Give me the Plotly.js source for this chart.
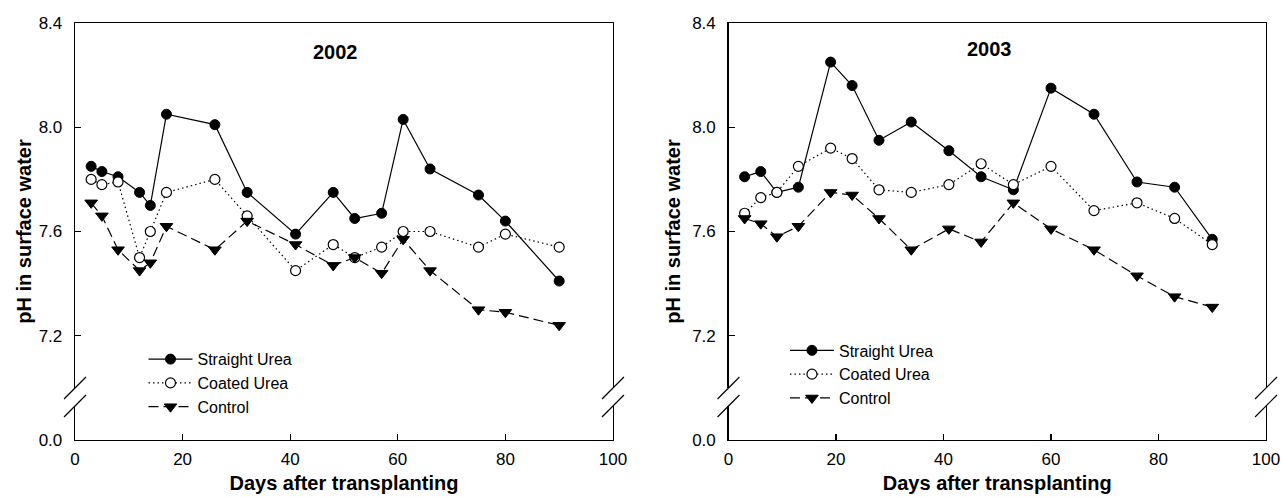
<!DOCTYPE html>
<html>
<head>
<meta charset="utf-8">
<script src="https://cdn.plot.ly/plotly-3.0.1.min.js"></script>
<style>html,body{margin:0;padding:0;background:#fff;}#chart{width:1282px;height:497px;}</style>
</head>
<body>
<div id="chart"></div>
<script>
// ---- data ----
const days2002 = [3,5,8,12,14,17,26,32,41,48,52,57,61,66,75,80,90];
const straight2002 = [7.85,7.83,7.81,7.75,7.70,8.05,8.01,7.75,7.59,7.75,7.65,7.67,8.03,7.84,7.74,7.64,7.41];
const coated2002 = [7.80,7.78,7.79,7.50,7.60,7.75,7.80,7.66,7.45,7.55,7.50,7.54,7.60,7.60,7.54,7.59,7.54];
const control2002 = [7.71,7.66,7.53,7.45,7.48,7.62,7.53,7.64,7.55,7.47,7.50,7.44,7.57,7.45,7.30,7.29,7.24];

const days2003 = [3,6,9,13,19,23,28,34,41,47,53,60,68,76,83,90];
const straight2003 = [7.81,7.83,7.75,7.77,8.25,8.16,7.95,8.02,7.91,7.81,7.76,8.15,8.05,7.79,7.77,7.57];
const coated2003 = [7.67,7.73,7.75,7.85,7.92,7.88,7.76,7.75,7.78,7.86,7.78,7.85,7.68,7.71,7.65,7.55];
const control2003 = [7.65,7.63,7.58,7.62,7.75,7.74,7.65,7.53,7.61,7.56,7.71,7.61,7.53,7.43,7.35,7.31];

const seriesNames = ["Straight Urea","Coated Urea","Control"];
const panelTitles = ["2002","2003"];
const yTickVals = [6.8,7.2,7.6,8.0,8.4];
const yTickText = ["0.0","7.2","7.6","8.0","8.4"];
const xTickVals = [0,20,40,60,80,100];
const xTitle = "Days after transplanting";
const yTitle = "pH in surface water";

// ---- styles ----
const FONT = "Liberation Sans, Arial, Helvetica, sans-serif";
const styles = [
  {line:{color:"#000",width:1.2,dash:"solid"}, marker:{symbol:"circle",size:10,color:"#000",line:{color:"#000",width:1}}},
  {line:{color:"#000",width:1.2,dash:"1.5px,3px"}, marker:{symbol:"circle",size:10,color:"#fff",line:{color:"#000",width:1.2}}},
  {line:{color:"#000",width:1.2,dash:"10px,5px"}, marker:{symbol:"triangle-down",size:11,color:"#000",line:{color:"#000",width:1}}}
];

function makeTraces(days, ys, xa, ya, legendId) {
  return ys.map((y, i) => ({
    type: "scatter", mode: "lines+markers",
    x: days, y: y, xaxis: xa, yaxis: ya,
    name: seriesNames[i], legend: legendId,
    line: styles[i].line, marker: styles[i].marker,
    cliponaxis: false
  }));
}

const traces = [
  ...makeTraces(days2002, [straight2002, coated2002, control2002], "x", "y", "legend"),
  ...makeTraces(days2003, [straight2003, coated2003, control2003], "x2", "y2", "legend2")
];

function xAxis(domain, anchor) {
  return {
    domain: domain, anchor: anchor, range: [0,100],
    tickmode: "array", tickvals: xTickVals,
    ticks: "inside", ticklen: 6, tickwidth: 1.2, tickcolor: "#000",
    showline: true, linecolor: "#000", linewidth: 1.3, mirror: true,
    showgrid: false, zeroline: false,
    tickfont: {family: FONT, size: 17, color: "#000"},
    ticklabelstandoff: 3,
    title: {text: xTitle, font: {family: FONT, size: 20, color: "#000", weight: "bold"}, standoff: 8}
  };
}
function yAxis(anchor, standoff) {
  return {
    domain: [0,1], anchor: anchor, range: [6.8,8.4],
    tickmode: "array", tickvals: yTickVals, ticktext: yTickText,
    ticks: "inside", ticklen: 6, tickwidth: 1.2, tickcolor: "#000",
    showline: true, linecolor: "#000", linewidth: 1.3, mirror: true,
    showgrid: false, zeroline: false,
    tickfont: {family: FONT, size: 17, color: "#000"},
    ticklabelstandoff: 8,
    title: {text: yTitle, font: {family: FONT, size: 20, color: "#000", weight: "bold"}, standoff: standoff}
  };
}

// axis break marks (double slash) on the vertical frame lines
function breakShapes(xref, yref, xpos) {
  const dx = 0.0204;
  const out = [];
  out.push({type:"rect", xref:xref, yref:yref, x0:xpos-0.006, x1:xpos+0.006, y0:0.0815, y1:0.1247,
            fillcolor:"#fff", line:{width:0}, layer:"above"});
  out.push({type:"line", xref:xref, yref:yref, x0:xpos-dx, y0:0.0983, x1:xpos+dx, y1:0.151, line:{color:"#000",width:1.2}});
  out.push({type:"line", xref:xref, yref:yref, x0:xpos-dx, y0:0.0552, x1:xpos+dx, y1:0.1079, line:{color:"#000",width:1.2}});
  return out;
}

const legendFont = {family: FONT, size: 16, color: "#000"};
const layout = {
  width: 1282, height: 497,
  margin: {l: 75, r: 16, t: 23, b: 57},
  paper_bgcolor: "#fff", plot_bgcolor: "#fff",
  font: {family: FONT, color: "#000"},
  xaxis: xAxis([0, 0.4517], "y"),
  yaxis: yAxis("x", 1),
  xaxis2: xAxis([0.5487, 1], "y2"),
  yaxis2: yAxis("x2", 6),
  showlegend: true,
  legend: {x: 0.0575, y: 0.2345, xanchor: "left", yanchor: "top", bgcolor: "rgba(0,0,0,0)",
           font: legendFont, tracegroupgap: 0, itemwidth: 44},
  legend2: {x: 0.5961, y: 0.2555, xanchor: "left", yanchor: "top", bgcolor: "rgba(0,0,0,0)",
           font: legendFont, tracegroupgap: 0, itemwidth: 44},
  annotations: [
    {text: panelTitles[0], xref: "x", yref: "y", x: 48.5, y: 8.29, showarrow: false,
     font: {family: FONT, size: 20, color: "#000", weight: "bold"}},
    {text: panelTitles[1], xref: "x2", yref: "y2", x: 48.5, y: 8.30, showarrow: false,
     font: {family: FONT, size: 20, color: "#000", weight: "bold"}}
  ],
  shapes: [
    ...breakShapes("x domain", "y domain", 0),
    ...breakShapes("x domain", "y domain", 1),
    ...breakShapes("x2 domain", "y2 domain", 0),
    ...breakShapes("x2 domain", "y2 domain", 1)
  ]
};

Plotly.newPlot("chart", traces, layout, {staticPlot: true, displayModeBar: false});
</script>
</body>
</html>
